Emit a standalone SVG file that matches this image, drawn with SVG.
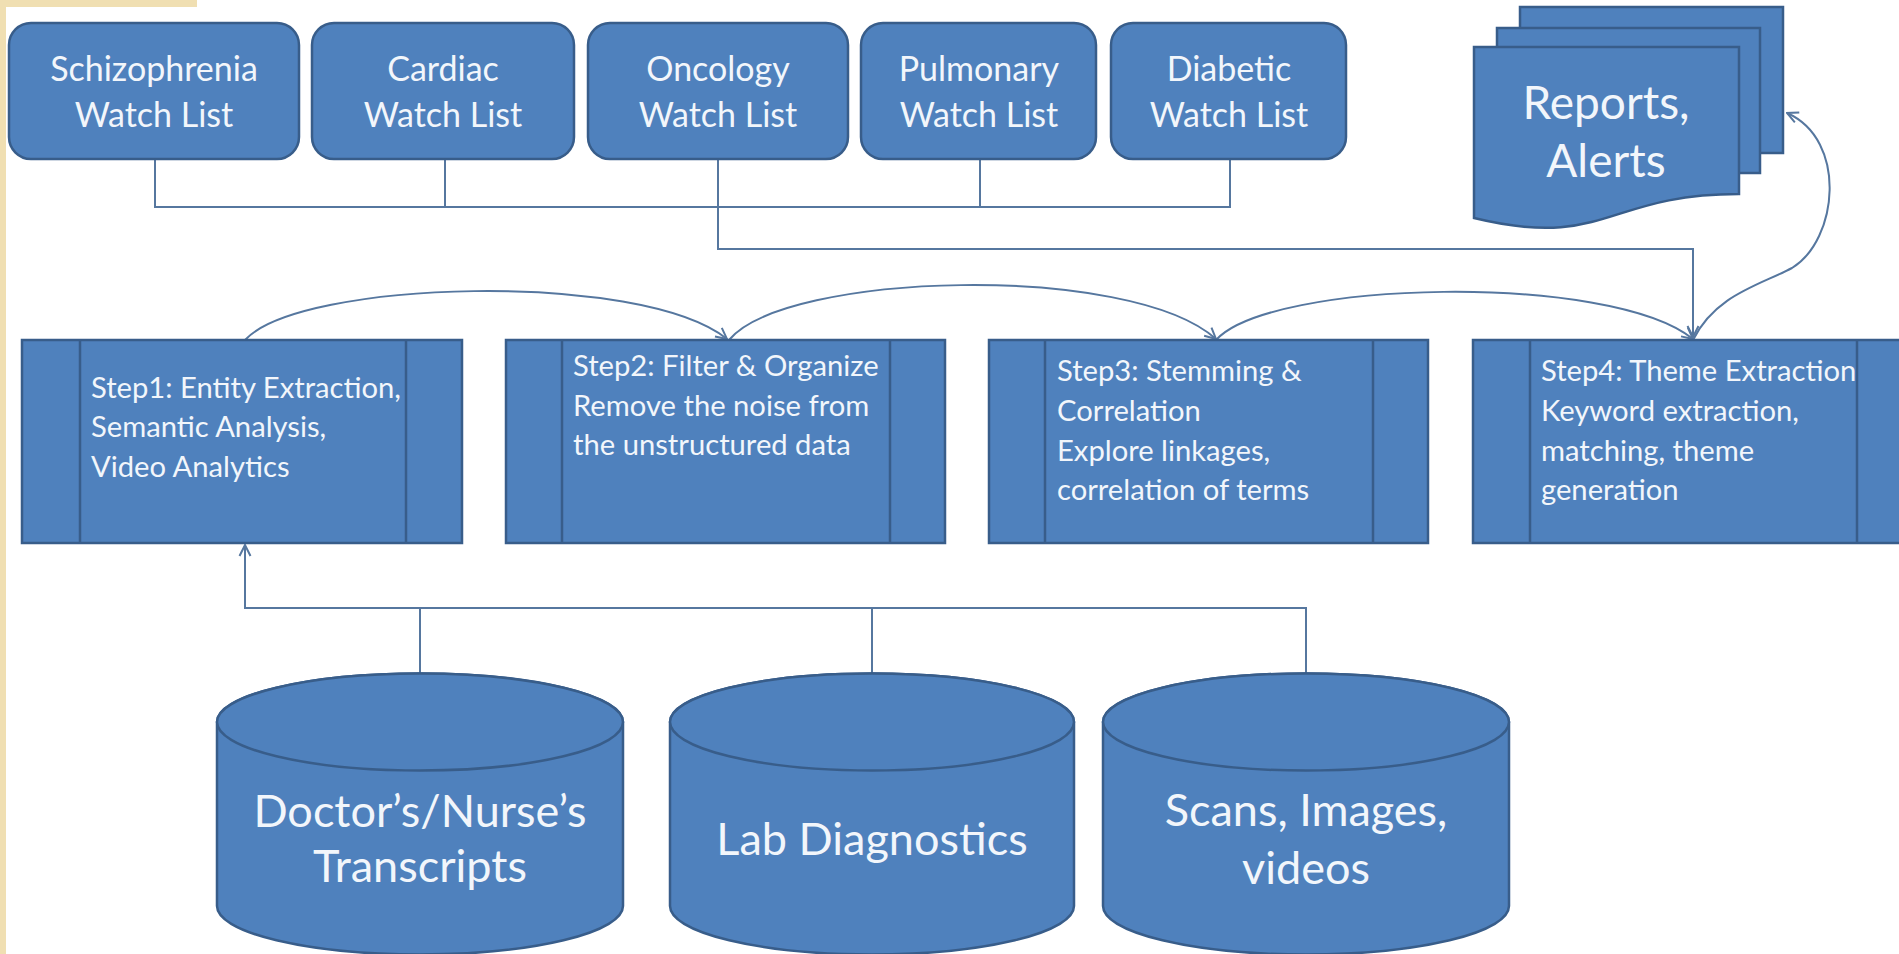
<svg xmlns="http://www.w3.org/2000/svg" width="1899" height="954" viewBox="0 0 1899 954">
<style>
.box{fill:#4f81bd;stroke:#385d8a;stroke-width:2.5}
.bar{fill:none;stroke:#385d8a;stroke-width:2.5}
.t{font-family:Lato,"Open Sans","Liberation Sans",sans-serif;fill:#f2f6fb}
.wt{font-size:34px;text-anchor:middle}
.st{font-size:29.2px}
.ct{font-size:45px;text-anchor:middle}
.rt{font-size:46px;text-anchor:middle}
.ln{fill:none;stroke:#56779f;stroke-width:2}
</style>
<defs>
<marker id="arr" markerUnits="userSpaceOnUse" viewBox="0 0 14 14" markerWidth="14" markerHeight="14" refX="13" refY="7" orient="auto">
<path d="M2,1.5 L13,7 L2,12.5" fill="none" stroke="#56779f" stroke-width="2"/>
</marker>
</defs>
<rect x="0" y="0" width="1899" height="954" fill="#ffffff"/>
<rect x="0" y="0" width="197" height="7" fill="#f0dfb2"/>
<rect x="0" y="0" width="6" height="954" fill="#f0dfb2"/>

<g id="connectors">
<path class="ln" d="M155,159 V207 H1230 V159 M445,159 V207 M980,159 V207"/>
<path class="ln" d="M718,159 V249 H1693 V337" marker-end="url(#arr)"/>
<path class="ln" d="M245,340 C300,280 640,270 727,339" marker-end="url(#arr)"/>
<path class="ln" d="M729,340 C785,272 1130,262 1216,339" marker-end="url(#arr)"/>
<path class="ln" d="M1216,340 C1270,280 1610,272 1693,339" marker-end="url(#arr)"/>
<path class="ln" d="M1693,340 C1715,295 1760,285 1792,268 C1838,240 1848,140 1787,113" marker-end="url(#arr)"/>
<path class="ln" d="M420,673 V608 M872,673 V608 M1306,673 V608 H245 V545" marker-end="url(#arr)"/>
</g>

<g id="watch-schizophrenia">
<rect class="box" x="9" y="23" width="290" height="136" rx="22"/>
<text class="t wt" x="154" y="81">Schizophrenia</text>
<text class="t wt" x="154" y="127">Watch List</text>
</g>
<g id="watch-cardiac">
<rect class="box" x="312" y="23" width="262" height="136" rx="22"/>
<text class="t wt" x="443" y="81">Cardiac</text>
<text class="t wt" x="443" y="127">Watch List</text>
</g>
<g id="watch-oncology">
<rect class="box" x="588" y="23" width="260" height="136" rx="22"/>
<text class="t wt" x="718" y="81">Oncology</text>
<text class="t wt" x="718" y="127">Watch List</text>
</g>
<g id="watch-pulmonary">
<rect class="box" x="861" y="23" width="235" height="136" rx="22"/>
<text class="t wt" x="979" y="81">Pulmonary</text>
<text class="t wt" x="979" y="127">Watch List</text>
</g>
<g id="watch-diabetic">
<rect class="box" x="1111" y="23" width="235" height="136" rx="22"/>
<text class="t wt" x="1229" y="81">Diabetic</text>
<text class="t wt" x="1229" y="127">Watch List</text>
</g>

<g id="reports-alerts">
<rect class="box" x="1520" y="7" width="263" height="146"/>
<rect class="box" x="1497" y="28" width="263" height="145"/>
<path class="box" d="M1474,47 H1739 V194 C1606,194 1606,250 1474,218 Z"/>
<text class="t rt" x="1606" y="119">Reports,</text>
<text class="t rt" x="1606" y="177">Alerts</text>
</g>

<g id="step1">
<rect class="box" x="22" y="340" width="440" height="203"/>
<path class="bar" d="M80,340 V543 M406,340 V543"/>
<text class="t st" x="91" y="398">Step1: Entity Extraction,</text>
<text class="t st" x="91" y="437">Semantic Analysis,</text>
<text class="t st" x="91" y="477">Video Analytics</text>
</g>
<g id="step2">
<rect class="box" x="506" y="340" width="439" height="203"/>
<path class="bar" d="M562,340 V543 M890,340 V543"/>
<text class="t st" x="573" y="376">Step2: Filter &amp; Organize</text>
<text class="t st" x="573" y="416">Remove the noise from</text>
<text class="t st" x="573" y="455">the unstructured data</text>
</g>
<g id="step3">
<rect class="box" x="989" y="340" width="439" height="203"/>
<path class="bar" d="M1045,340 V543 M1373,340 V543"/>
<text class="t st" x="1057" y="381">Step3: Stemming &amp;</text>
<text class="t st" x="1057" y="421">Correlation</text>
<text class="t st" x="1057" y="461">Explore linkages,</text>
<text class="t st" x="1057" y="500">correlation of terms</text>
</g>
<g id="step4">
<rect class="box" x="1473" y="340" width="440" height="203"/>
<path class="bar" d="M1530,340 V543 M1857,340 V543"/>
<text class="t st" x="1541" y="381">Step4: Theme Extraction</text>
<text class="t st" x="1541" y="421">Keyword extraction,</text>
<text class="t st" x="1541" y="461">matching, theme</text>
<text class="t st" x="1541" y="500">generation</text>
</g>

<g id="db-transcripts">
<path class="box" d="M217,722 A203,48.5 0 0 1 623,722 V906 A203,48.5 0 0 1 217,906 Z"/>
<ellipse class="box" cx="420" cy="722" rx="203" ry="48.5"/>
<text class="t ct" x="420" y="827">Doctor’s/Nurse’s</text>
<text class="t ct" x="420" y="882">Transcripts</text>
</g>
<g id="db-lab">
<path class="box" d="M670,722 A202,48.5 0 0 1 1074,722 V906 A202,48.5 0 0 1 670,906 Z"/>
<ellipse class="box" cx="872" cy="722" rx="202" ry="48.5"/>
<text class="t ct" x="872" y="855">Lab Diagnostics</text>
</g>
<g id="db-scans">
<path class="box" d="M1103,722 A203,48.5 0 0 1 1509,722 V906 A203,48.5 0 0 1 1103,906 Z"/>
<ellipse class="box" cx="1306" cy="722" rx="203" ry="48.5"/>
<text class="t ct" x="1306" y="826">Scans, Images,</text>
<text class="t ct" x="1306" y="884">videos</text>
</g>
</svg>
